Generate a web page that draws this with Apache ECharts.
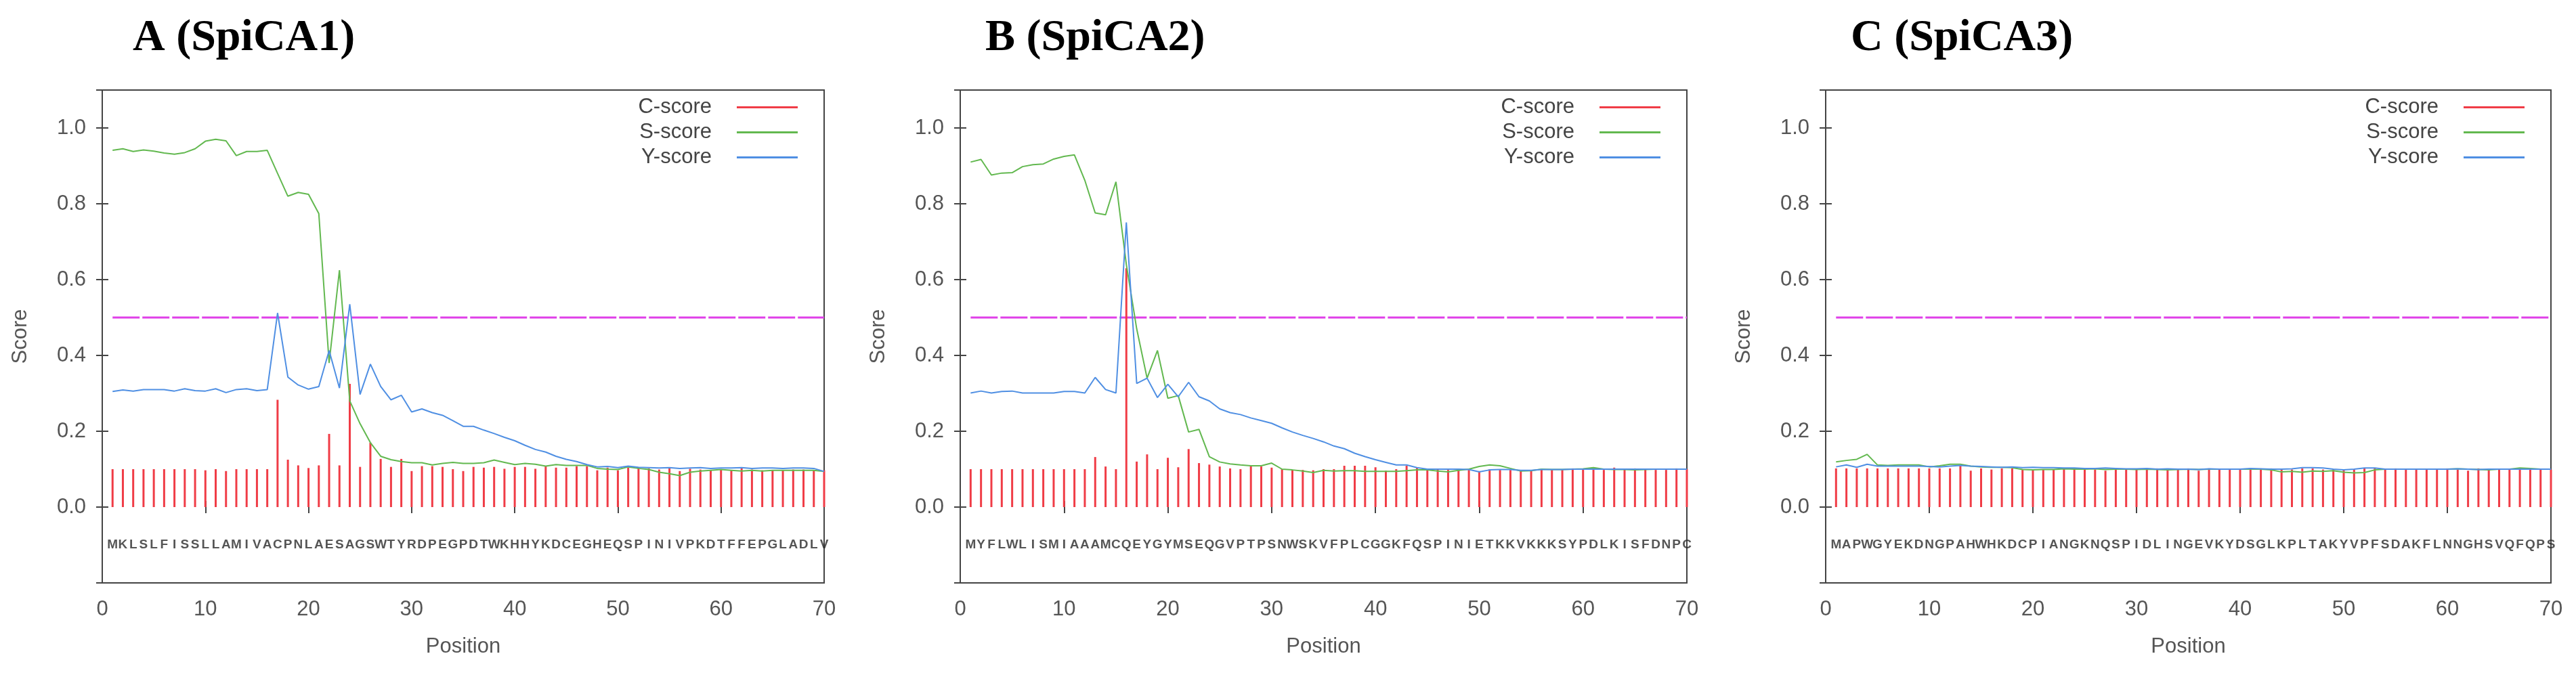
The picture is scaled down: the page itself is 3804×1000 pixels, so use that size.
<!DOCTYPE html>
<html>
<head>
<meta charset="utf-8" />
<title>SignalP scores</title>
<script src="https://cdn.jsdelivr.net/npm/echarts@6/dist/echarts.min.js"></script>
<style>
  html, body { margin: 0; padding: 0; background: #fff; }
  #chart { width: 3804px; height: 1000px; }
</style>
</head>
<body>
<div id="chart"></div>
<script>
// ---- data ----
const titles = ['A (SpiCA1)', 'B (SpiCA2)', 'C (SpiCA3)'];
const seriesNames = ['C-score', 'S-score', 'Y-score'];
const cutoff = 0.5;

const seqA = 'MKLSLFISSLLAMIVACPNLAESAGSWTYRDPEGPDTWKHHYKDCEGHEQSPINIVPKDTFFEPGLADLV';
const seqB = 'MYFLWLISMIAAAMCQEYGYMSEQGVPTPSNWSKVFPLCGGKFQSPINIETKKVKKKSYPDLKISFDNPC';
const seqC = 'MAPWGYEKDNGPAHWHKDCPIANGKNQSPIDLINGEVKYDSGLKPLTAKYVPFSDAKFLNNGHSVQFQPS';

const cScoreA = [0.10, 0.10, 0.10, 0.10, 0.10, 0.10, 0.10, 0.10, 0.10, 0.097,
  0.10, 0.095, 0.10, 0.10, 0.10, 0.10, 0.283, 0.125, 0.11, 0.103,
  0.11, 0.193, 0.11, 0.325, 0.106, 0.17, 0.127, 0.106, 0.127, 0.095,
  0.108, 0.108, 0.106, 0.10, 0.095, 0.106, 0.104, 0.106, 0.101, 0.106,
  0.106, 0.101, 0.108, 0.104, 0.104, 0.108, 0.108, 0.097, 0.104, 0.097,
  0.104, 0.104, 0.102, 0.099, 0.104, 0.095, 0.101, 0.099, 0.097, 0.099,
  0.097, 0.102, 0.099, 0.097, 0.097, 0.097, 0.099, 0.099, 0.097, 0.097];
const sScoreA = [0.941, 0.945, 0.938, 0.942, 0.939, 0.934, 0.931, 0.935, 0.945, 0.965,
  0.970, 0.966, 0.927, 0.938, 0.938, 0.941, 0.88, 0.82, 0.83, 0.825,
  0.774, 0.38, 0.625, 0.28, 0.22, 0.17, 0.134, 0.125, 0.12, 0.117,
  0.117, 0.111, 0.115, 0.118, 0.115, 0.115, 0.117, 0.124, 0.118, 0.112,
  0.115, 0.113, 0.108, 0.112, 0.11, 0.11, 0.11, 0.102, 0.10, 0.099,
  0.106, 0.102, 0.099, 0.092, 0.088, 0.083, 0.092, 0.095, 0.097, 0.099,
  0.097, 0.095, 0.097, 0.095, 0.097, 0.097, 0.097, 0.097, 0.097, 0.094];
const yScoreA = [0.305, 0.309, 0.306, 0.31, 0.31, 0.31, 0.306, 0.312, 0.307, 0.306,
  0.312, 0.302, 0.31, 0.312, 0.307, 0.31, 0.512, 0.343, 0.322, 0.311,
  0.318, 0.413, 0.314, 0.535, 0.297, 0.377, 0.318, 0.283, 0.295, 0.251,
  0.259, 0.249, 0.242, 0.228, 0.213, 0.213, 0.203, 0.194, 0.184, 0.175,
  0.163, 0.152, 0.145, 0.134, 0.126, 0.12, 0.112, 0.106, 0.107, 0.104,
  0.108, 0.105, 0.104, 0.103, 0.104, 0.102, 0.103, 0.104, 0.102, 0.103,
  0.103, 0.104, 0.102, 0.103, 0.103, 0.102, 0.103, 0.103, 0.102, 0.094];

const cScoreB = [0.10, 0.10, 0.10, 0.10, 0.10, 0.10, 0.10, 0.10, 0.10, 0.10,
  0.10, 0.10, 0.132, 0.107, 0.10, 0.63, 0.12, 0.139, 0.10, 0.13,
  0.105, 0.153, 0.116, 0.112, 0.107, 0.102, 0.10, 0.109, 0.107, 0.104,
  0.10, 0.098, 0.098, 0.097, 0.10, 0.10, 0.109, 0.109, 0.109, 0.105,
  0.096, 0.10, 0.109, 0.104, 0.10, 0.10, 0.098, 0.098, 0.098, 0.095,
  0.10, 0.098, 0.098, 0.095, 0.097, 0.10, 0.098, 0.098, 0.102, 0.10,
  0.104, 0.098, 0.104, 0.10, 0.102, 0.10, 0.098, 0.098, 0.102, 0.10];
const sScoreB = [0.91, 0.917, 0.876, 0.881, 0.882, 0.898, 0.903, 0.905, 0.918, 0.925,
  0.929, 0.862, 0.776, 0.771, 0.858, 0.64, 0.47, 0.34, 0.413, 0.287,
  0.294, 0.198, 0.205, 0.133, 0.119, 0.114, 0.111, 0.109, 0.109, 0.116,
  0.10, 0.098, 0.095, 0.091, 0.097, 0.095, 0.096, 0.096, 0.094, 0.094,
  0.094, 0.094, 0.096, 0.098, 0.098, 0.095, 0.093, 0.097, 0.10, 0.107,
  0.111, 0.109, 0.102, 0.095, 0.096, 0.10, 0.099, 0.099, 0.10, 0.101,
  0.104, 0.10, 0.099, 0.099, 0.098, 0.099, 0.10, 0.10, 0.10, 0.10];
const yScoreB = [0.301, 0.306, 0.301, 0.305, 0.306, 0.301, 0.301, 0.301, 0.301, 0.305,
  0.305, 0.301, 0.342, 0.31, 0.301, 0.751, 0.326, 0.34, 0.289, 0.324,
  0.291, 0.329, 0.291, 0.28, 0.259, 0.249, 0.244, 0.235, 0.228, 0.221,
  0.209, 0.198, 0.189, 0.181, 0.172, 0.161, 0.154, 0.142, 0.133, 0.125,
  0.118, 0.111, 0.111, 0.104, 0.10, 0.10, 0.10, 0.10, 0.099, 0.093,
  0.098, 0.099, 0.099, 0.097, 0.097, 0.099, 0.099, 0.099, 0.10, 0.10,
  0.10, 0.10, 0.10, 0.10, 0.10, 0.10, 0.10, 0.10, 0.10, 0.10];

const cScoreC = [0.102, 0.102, 0.102, 0.102, 0.102, 0.102, 0.102, 0.102, 0.102, 0.102,
  0.102, 0.102, 0.111, 0.096, 0.102, 0.099, 0.102, 0.102, 0.099, 0.099,
  0.099, 0.099, 0.102, 0.099, 0.099, 0.099, 0.096, 0.102, 0.099, 0.099,
  0.099, 0.102, 0.099, 0.099, 0.102, 0.096, 0.102, 0.099, 0.099, 0.099,
  0.099, 0.102, 0.102, 0.099, 0.099, 0.102, 0.102, 0.099, 0.099, 0.099,
  0.099, 0.102, 0.102, 0.099, 0.102, 0.099, 0.099, 0.099, 0.099, 0.102,
  0.099, 0.096, 0.102, 0.099, 0.099, 0.099, 0.099, 0.102, 0.099, 0.099];
const sScoreC = [0.119, 0.123, 0.126, 0.139, 0.111, 0.11, 0.111, 0.111, 0.111, 0.106,
  0.109, 0.113, 0.113, 0.108, 0.106, 0.105, 0.105, 0.104, 0.099, 0.098,
  0.099, 0.099, 0.101, 0.10, 0.10, 0.101, 0.099, 0.10, 0.10, 0.099,
  0.10, 0.099, 0.098, 0.099, 0.10, 0.099, 0.10, 0.10, 0.10, 0.10,
  0.10, 0.10, 0.098, 0.093, 0.094, 0.092, 0.095, 0.094, 0.096, 0.092,
  0.09, 0.091, 0.098, 0.10, 0.10, 0.10, 0.10, 0.10, 0.10, 0.10,
  0.101, 0.10, 0.099, 0.098, 0.10, 0.10, 0.103, 0.102, 0.10, 0.10];
const yScoreC = [0.106, 0.111, 0.105, 0.113, 0.108, 0.108, 0.108, 0.108, 0.108, 0.107,
  0.106, 0.108, 0.11, 0.108, 0.107, 0.106, 0.105, 0.106, 0.104, 0.105,
  0.104, 0.104, 0.103, 0.103, 0.102, 0.102, 0.103, 0.102, 0.101, 0.101,
  0.102, 0.10, 0.101, 0.10, 0.10, 0.099, 0.101, 0.10, 0.10, 0.10,
  0.102, 0.101, 0.10, 0.10, 0.101, 0.104, 0.104, 0.103, 0.10, 0.098,
  0.10, 0.103, 0.103, 0.10, 0.10, 0.10, 0.10, 0.10, 0.10, 0.10,
  0.101, 0.10, 0.099, 0.10, 0.10, 0.10, 0.10, 0.10, 0.10, 0.10];

const xTicks = { min: 0, max: 70, interval: 10 };
const yTicks = { min: -0.2, max: 1.1, interval: 0.2 };
const seqLevel = -0.1;

// ---- layout / style ----
const panels = [
  { left: 151, width: 1066, titleLeft: 191, seq: seqA, c: cScoreA, s: sScoreA, y: yScoreA },
  { left: 1418, width: 1073, titleLeft: 1450, seq: seqB, c: cScoreB, s: sScoreB, y: yScoreB },
  { left: 2696, width: 1071, titleLeft: 2728, seq: seqC, c: cScoreC, s: sScoreC, y: yScoreC }
];
const gridTop = 133, gridHeight = 728;
const colors = { c: '#f03c46', s: '#62b84f', y: '#4f8fe3', cut: '#e040e8' };
const sans = "'Liberation Sans', Arial, sans-serif";
const frame = '#444';
const textGray = '#555';

const positions = sScoreA.map((_, i) => i + 1);
const pairs = vals => vals.map((v, i) => [positions[i], v]);

const chart = echarts.init(document.getElementById('chart'));

const grid = [], xAxis = [], yAxis = [], series = [], title = [], legend = [];

panels.forEach((p, k) => {
  grid.push({
    left: p.left, top: gridTop, width: p.width, height: gridHeight,
    show: true, borderColor: frame, borderWidth: 2, backgroundColor: '#fff'
  });
  title.push({
    text: titles[k], left: p.titleLeft, top: 19,
    textStyle: { fontFamily: "'Liberation Serif', 'Times New Roman', serif", fontWeight: 'bold', fontSize: 66, color: '#000' }
  });
  legend.push({
    data: seriesNames, orient: 'vertical', align: 'right',
    right: 3804 - (p.left + p.width - 39), top: 140,
    icon: 'rect', itemWidth: 90, itemHeight: 3, itemGap: 0, padding: 0,
    selectedMode: false,
    textStyle: { fontFamily: sans, fontSize: 31, color: '#444', lineHeight: 37, padding: [0, 32, 0, 0] }
  });

  const tickStyle = { show: true, inside: true, length: 9, lineStyle: { color: frame, width: 2 } };
  // bottom and top x axes
  xAxis.push({
    type: 'value', gridIndex: k, position: 'bottom', ...xTicks,
    name: 'Position', nameLocation: 'middle', nameGap: 79,
    nameTextStyle: { fontFamily: sans, fontSize: 31, color: textGray },
    axisLine: { show: false }, axisTick: tickStyle, splitLine: { show: false },
    axisLabel: { fontFamily: sans, fontSize: 31, color: textGray, margin: 24 }
  });
  xAxis.push({
    type: 'value', gridIndex: k, position: 'top', ...xTicks,
    axisLine: { show: false }, axisTick: tickStyle, splitLine: { show: false },
    axisLabel: { show: false }
  });
  // left and right y axes
  yAxis.push({
    type: 'value', gridIndex: k, position: 'left', ...yTicks,
    name: 'Score', nameLocation: 'middle', nameGap: 105, nameRotate: 90,
    nameTextStyle: { fontFamily: sans, fontSize: 31, color: textGray },
    axisLine: { show: false }, axisTick: tickStyle, splitLine: { show: false },
    axisLabel: {
      fontFamily: sans, fontSize: 31, color: textGray, margin: 24,
      formatter: v => (v < -1e-9 || v > 1.05 ? '' : v.toFixed(1))
    }
  });
  yAxis.push({
    type: 'value', gridIndex: k, position: 'right', ...yTicks,
    axisLine: { show: false }, axisTick: tickStyle, splitLine: { show: false },
    axisLabel: { show: false }
  });

  const xi = 2 * k, yi = 2 * k;
  series.push({
    name: 'cutoff', type: 'line', xAxisIndex: xi, yAxisIndex: yi, z: 1,
    data: [[positions[0], cutoff], [positions[positions.length - 1], cutoff]],
    showSymbol: false, silent: true,
    lineStyle: { color: colors.cut, width: 3, type: [40, 4] }
  });
  series.push({
    name: seriesNames[0], type: 'bar', xAxisIndex: xi, yAxisIndex: yi, z: 2,
    data: pairs(p.c), barWidth: 3, silent: true,
    itemStyle: { color: colors.c }
  });
  series.push({
    name: seriesNames[1], type: 'line', xAxisIndex: xi, yAxisIndex: yi, z: 3,
    data: pairs(p.s), showSymbol: false, silent: true,
    itemStyle: { color: colors.s }, lineStyle: { color: colors.s, width: 2 }
  });
  series.push({
    name: seriesNames[2], type: 'line', xAxisIndex: xi, yAxisIndex: yi, z: 4,
    data: pairs(p.y), showSymbol: false, silent: true,
    itemStyle: { color: colors.y }, lineStyle: { color: colors.y, width: 2 }
  });
  // amino-acid sequence written under the curves, one letter per position
  series.push({
    name: 'sequence', type: 'scatter', xAxisIndex: xi, yAxisIndex: yi, z: 5,
    data: positions.map(x => [x, seqLevel]), symbolSize: 1, silent: true,
    itemStyle: { color: 'transparent' },
    label: {
      show: true, position: 'inside',
      formatter: q => p.seq[q.dataIndex],
      fontFamily: sans, fontWeight: 'bold', fontSize: 19, color: '#2a2a2a'
    }
  });
});

chart.setOption({
  animation: false,
  backgroundColor: '#fff',
  title, legend, grid, xAxis, yAxis, series
});
</script>
</body>
</html>
